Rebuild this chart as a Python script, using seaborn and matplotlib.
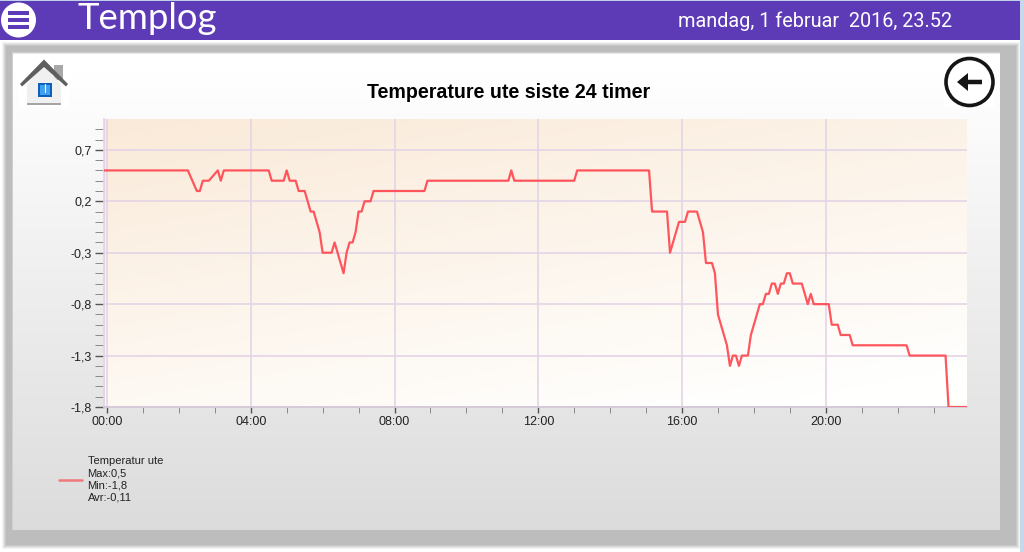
import numpy as np
import matplotlib
matplotlib.use("Agg")
import matplotlib.pyplot as plt
from matplotlib.patches import Rectangle, Circle, Polygon, FancyArrow
from matplotlib.ticker import FixedLocator, FixedFormatter
import seaborn as sns

# ---- data ----
minutes = [-5, 135, 150, 155, 160, 170, 185, 190, 195, 270, 275, 295, 300, 305, 315, 320, 330, 340,
           345, 355, 360, 375, 380, 385, 395, 400, 405, 410, 415, 420, 425, 430, 440, 445, 530, 535,
           670, 675, 680, 780, 785, 905, 910, 935, 940, 955, 965, 970, 985, 995, 1000, 1010, 1015,
           1020, 1025, 1035, 1040, 1045, 1050, 1055, 1060, 1070, 1075, 1080, 1090, 1095, 1100, 1105,
           1110, 1115, 1120, 1125, 1130, 1135, 1140, 1145, 1160, 1170, 1175, 1180, 1205, 1210, 1220,
           1225, 1240, 1245, 1335, 1340, 1400, 1405, 1435]
temps = [0.5, 0.5, 0.3, 0.3, 0.4, 0.4, 0.5, 0.4, 0.5, 0.5, 0.4, 0.4, 0.5, 0.4, 0.4, 0.3, 0.3, 0.1,
         0.1, -0.1, -0.3, -0.3, -0.2, -0.3, -0.5, -0.3, -0.2, -0.2, -0.1, 0.1, 0.1, 0.2, 0.2, 0.3, 0.3, 0.4,
         0.4, 0.5, 0.4, 0.4, 0.5, 0.5, 0.1, 0.1, -0.3, 0.0, 0.0, 0.1, 0.1, -0.1, -0.4, -0.4, -0.5,
         -0.9, -1.0, -1.2, -1.4, -1.3, -1.3, -1.4, -1.3, -1.3, -1.1, -1.0, -0.8, -0.8, -0.7, -0.7,
         -0.6, -0.6, -0.7, -0.6, -0.6, -0.5, -0.5, -0.6, -0.6, -0.8, -0.7, -0.8, -0.8, -1.0, -1.0,
         -1.1, -1.1, -1.2, -1.2, -1.3, -1.3, -1.8, -1.8]
hour_ticks = [0, 240, 480, 720, 960, 1200]
hour_labels = ["00:00", "04:00", "08:00", "12:00", "16:00", "20:00"]
y_ticks = [0.7, 0.2, -0.3, -0.8, -1.3, -1.8]
y_labels = ["0,7", "0,2", "-0,3", "-0,8", "-1,3", "-1,8"]
title = "Temperature ute siste 24 timer"
legend_lines = ["Temperatur ute", "Max:0,5", "Min:-1,8", "Avr:-0,11"]

sns.set_style("white")
plt.rcParams["font.family"] = ["Liberation Sans", "DejaVu Sans"]

W, H = 1024, 552
fig = plt.figure(figsize=(W / 100, H / 100), dpi=100, facecolor="#ffffff")

# pixel-space background layer
bg = fig.add_axes([0, 0, 1, 1], zorder=0)
bg.set_xlim(0, W); bg.set_ylim(H, 0); bg.axis("off")
bg.add_patch(Rectangle((0, 0), W, 1, color="#bcd0ea", lw=0))
bg.add_patch(Rectangle((1020, 0), 4, H, color="#c8d8ec", lw=0))
bg.add_patch(Rectangle((0, 1), 1020, 38.5, color="#5e3bb6", lw=0))
# soft frame: nested rectangles from light to the band colour
for inset, col in ((0, "#f4f4f4"), (1, "#e6e6e6"), (2, "#d6d6d6"), (3, "#c8c8c8"), (4, "#bdbdbd")):
    bg.add_patch(Rectangle((2 + inset, 42 + inset), 1018 - 2 * inset, 507 - 2 * inset, color=col, lw=0))
for inset, col in ((0, "#cfcfcf"), (1, "#e8e8e8")):
    bg.add_patch(Rectangle((12 + inset * 0.5, 52 + inset), 988 - inset, 478 - inset, color=col, lw=0))
grad = np.linspace(0, 1, 256)
vals = np.clip((grad - 0.04) / 0.96, 0, 1)
col = 1 + (0.862 - 1) * vals
img = np.dstack([col, col, col]).reshape(256, 1, 3)
bg.imshow(img, extent=(13, 1000, 530, 54), aspect="auto", zorder=1)
bg.set_xlim(0, W); bg.set_ylim(H, 0)

# header content
bg.add_patch(Circle((18.5, 20), 17.5, color="white", lw=0, zorder=3))
for yy in (13, 20, 27):
    bg.add_patch(Rectangle((8, yy - 2), 21, 4, color="#5e3bb6", lw=0, zorder=4))
bg.text(78, 29, "Templog", color="white", fontsize=26.3, family="Lato",
        va="baseline", ha="left", zorder=4)
bg.text(678, 21.5, "mandag, 1 februar  2016, 23.52", color="white", fontsize=14.3, family="Roboto",
        va="center", ha="left", zorder=4)

# home icon
bg.add_patch(Rectangle((19, 57), 50, 50, color="white", lw=0, zorder=2))
bg.add_patch(Rectangle((54, 65), 9, 15, color="#a8a8a8", lw=0, zorder=3))
bg.add_patch(Polygon([[27, 84], [44, 66], [61, 84], [61, 104], [27, 104]], fc="#f0f0f0", ec="none", zorder=3))
bg.add_patch(Rectangle((27, 102.5), 34, 2, color="#a5a5a5", lw=0, zorder=3))
bg.add_patch(Polygon([[20, 84], [44, 59.5], [68, 84], [66, 86.5], [44, 67], [22, 86.5]], fc="#5f5f5f", ec="none", zorder=4))
bg.add_patch(Rectangle((38, 83), 14, 14, color="#0f5fb8", lw=0, zorder=4))
bg.add_patch(Rectangle((40, 85), 10, 10, color="#3ea0ee", lw=0, zorder=5))
bg.plot([45, 45], [84, 92], color="white", lw=0.8, zorder=6)

# back button
bg.add_patch(Rectangle((944, 57), 50, 50, color="white", lw=0, zorder=2))
bg.add_patch(Circle((969.5, 82), 23.5, fc="white", ec="#151515", lw=2.6, zorder=3))
bg.add_patch(FancyArrow(982, 82, -25, 0, width=4.5, head_width=18, head_length=11,
                        length_includes_head=True, color="#151515", lw=0, zorder=4))

# chart title
bg.text(509, 93, title, fontsize=14.1, fontweight="bold", color="black", ha="center", va="center", zorder=4)

# chart axes
L, R, T, B = 103.5, 966.5, 119, 407
ax = fig.add_axes([L / W, 1 - B / H, (R - L) / W, (B - T) / H], zorder=2)
px_per_min = 143.75 / 240
ax.set_xlim(-(107 - L) / px_per_min, (R - 107) / px_per_min)
ax.set_ylim(-1.8, 1.0)

# plot-area gradient
yy, xx = np.mgrid[0:1:120j, 0:1:240j]
t = np.clip(0.38 * xx + 0.72 * yy, 0, 1)[..., None]
start, end = np.array([0.98, 0.918, 0.85]), np.array([1.0, 1.0, 0.995])
ax.imshow(start + (end - start) * t, extent=(*ax.get_xlim(), -1.8, 1.0), origin="upper",
          aspect="auto", zorder=0)

grid_color = "#e4d4e6"
for v in y_ticks:
    ax.axhline(v, color=grid_color, lw=1.2, zorder=1)
for m in hour_ticks:
    ax.axvline(m, color=grid_color, lw=1.2, zorder=1)
ax.axvline(-5, color=grid_color, lw=1.2, zorder=1)

sns.lineplot(x=minutes, y=temps, estimator=None, color="#ff4d55", lw=1.6, alpha=0.95, ax=ax, zorder=3)

for s in ("top", "right"):
    ax.spines[s].set_visible(False)
ax.spines["left"].set_color(grid_color); ax.spines["left"].set_linewidth(1.2)
ax.spines["bottom"].set_color("#d3c6d6"); ax.spines["bottom"].set_linewidth(1.2)

ax.xaxis.set_major_locator(FixedLocator(hour_ticks))
ax.xaxis.set_major_formatter(FixedFormatter(hour_labels))
ax.xaxis.set_minor_locator(FixedLocator([m for m in range(60, 1440, 60) if m not in hour_ticks]))
ax.yaxis.set_major_locator(FixedLocator(y_ticks))
ax.yaxis.set_major_formatter(FixedFormatter(y_labels))
ax.yaxis.set_minor_locator(FixedLocator([round(-1.7 + 0.1 * i, 1) for i in range(27)
                                         if round(-1.7 + 0.1 * i, 1) not in y_ticks]))
ax.tick_params(axis="both", which="major", length=6.5, width=1.0, color="#555555",
               labelsize=9, labelcolor="#222222", bottom=True, left=True, pad=2)
ax.tick_params(axis="both", which="minor", length=6.5, width=0.7, color="#8a8a8a", bottom=True, left=True)
ax.tick_params(axis="x", which="both", length=4.5)

# legend block
bg.plot([59, 82], [479.5, 479.5], color="#f0787c", lw=1.8, zorder=4)
for i, s in enumerate(legend_lines):
    bg.text(87.5, 461 + i * 12.2, s, fontsize=8.0, color="#222222", va="center", ha="left", zorder=4)

fig.savefig("out.png", dpi=100, facecolor=fig.get_facecolor())
